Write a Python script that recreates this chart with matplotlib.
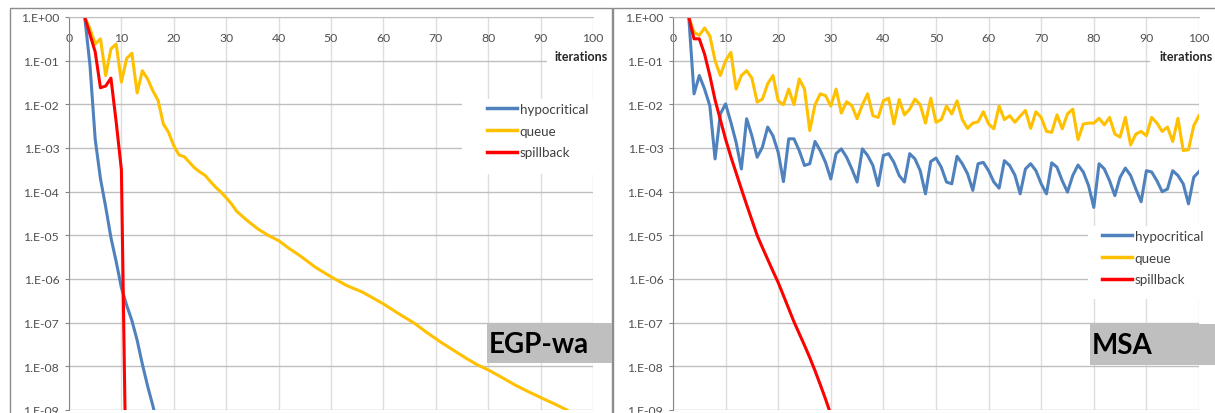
import numpy as np
import matplotlib.pyplot as plt
from matplotlib.patches import Rectangle
from matplotlib.lines import Line2D
from matplotlib.ticker import FixedLocator, FuncFormatter, NullLocator

plt.rcParams['font.family'] = ['Lato', 'DejaVu Sans']

# ---- data (log10 of the residual) ----
# EGP-wa panel
egp_hypo_it = list(range(3, 18))
egp_hypo_log = [0, -1.1, -2.8, -3.7, -4.35, -5.05, -5.6, -6.2, -6.6, -6.95,
                -7.4, -7.95, -8.45, -8.9, -9.4]

egp_queue_it = list(range(3, 33)) + [34, 36, 38, 40, 42, 44, 47, 50, 53, 56, 60,
                                     63, 66, 68, 71, 74, 76, 78, 80, 83, 85, 88,
                                     91, 93, 95, 96]
egp_queue_log = [0, -0.27, -0.62, -0.5, -1.34, -0.73, -0.62, -1.49, -0.95, -0.83,
                 -1.74, -1.23, -1.42, -1.69, -1.91, -2.45, -2.64, -2.95, -3.16, -3.2,
                 -3.33, -3.46, -3.55, -3.63, -3.77, -3.9, -4.01, -4.14, -4.28, -4.45,
                 -4.66, -4.85, -5.0, -5.12, -5.3, -5.46, -5.73, -5.95, -6.15, -6.3, -6.57,
                 -6.8, -7.02, -7.2, -7.45, -7.68, -7.83, -7.97, -8.08, -8.28, -8.42, -8.6,
                 -8.77, -8.88, -9.0, -9.08]

egp_spill_it = list(range(3, 12))
egp_spill_log = [0, -0.4, -0.8, -1.62, -1.58, -1.4, -2.4, -3.5, -11.5]

# MSA panel
msa_it = list(range(3, 101))
msa_hypo_log = [0, -1.76, -1.34, -1.65, -2.03, -3.25, -2.22, -1.99, -2.41, -2.87,
                -3.48, -2.33, -2.72, -3.21, -2.98, -2.52, -2.72, -3.1, -3.77, -2.79,
                -2.79, -3.06, -3.4, -3.36, -2.85, -3.06, -3.33, -3.71, -3.13, -3.02,
                -3.21, -3.48, -3.78, -3.02, -3.17, -3.4, -3.86, -3.17, -3.13, -3.33,
                -3.63, -3.78, -3.13, -3.25, -3.52, -4.05, -3.31, -3.23, -3.44, -3.78,
                -3.82, -3.19, -3.36, -3.59, -3.97, -3.36, -3.33, -3.52, -3.78, -3.92,
                -3.29, -3.4, -3.62, -4.05, -3.48, -3.36, -3.52, -3.82, -4.05, -3.34,
                -3.44, -3.75, -4.01, -3.63, -3.39, -3.55, -3.86, -4.36, -3.36, -3.48,
                -3.75, -4.09, -3.67, -3.46, -3.63, -3.94, -4.23, -3.52, -3.55, -3.75,
                -4.0, -3.94, -3.52, -3.63, -3.82, -4.28, -3.67, -3.54]
msa_queue_log = [0, -0.35, -0.42, -0.25, -0.43, -1.0, -1.34, -1.0, -0.81, -1.65,
                 -1.34, -1.23, -1.4, -1.95, -1.88, -1.53, -1.34, -1.92, -2.01, -1.65,
                 -2.01, -1.42, -1.65, -2.6, -2.01, -1.76, -1.8, -2.04, -1.65, -2.2,
                 -1.94, -2.03, -2.33, -2.01, -1.76, -2.26, -2.3, -1.92, -1.86, -2.45,
                 -1.89, -2.24, -2.11, -1.88, -2.01, -2.43, -1.86, -2.41, -2.35, -2.04,
                 -2.22, -1.92, -2.35, -2.55, -2.43, -2.4, -2.17, -2.45, -2.56, -2.04,
                 -2.35, -2.26, -2.41, -2.27, -2.14, -2.55, -2.17, -2.3, -2.62, -2.64,
                 -2.24, -2.56, -2.22, -2.11, -2.81, -2.45, -2.43, -2.43, -2.32, -2.47,
                 -2.3, -2.68, -2.75, -2.3, -2.93, -2.68, -2.62, -2.72, -2.3, -2.43,
                 -2.62, -2.52, -2.85, -2.32, -3.06, -3.04, -2.49, -2.26]
msa_spill_it = list(range(3, 32))
msa_spill_log = [0, -0.5, -0.5, -0.85, -1.34, -1.9, -2.35, -2.8, -3.2, -3.57,
                 -3.94, -4.3, -4.65, -5.0, -5.28, -5.55, -5.82, -6.08, -6.38, -6.68,
                 -6.98, -7.25, -7.52, -7.8, -8.1, -8.42, -8.75, -9.1, -9.45]

labels = ["hypocritical", "queue", "spillback"]
colors = ["#4F81BD", "#FFC000", "#FF0000"]
x_ticks = list(range(0, 101, 10))
y_ticks = [10.0 ** -k for k in range(0, 10)]

W, H = 1215, 414
fig = plt.figure(figsize=(W / 100, H / 100), dpi=100)


def fx(px):
    return px / W


def fy(py):
    return 1 - py / H


def style_axes(ax):
    ax.set_yscale('log')
    ax.set_xlim(0, 100)
    ax.set_ylim(1e-9, 1)
    ax.yaxis.set_major_locator(FixedLocator(y_ticks))
    ax.yaxis.set_minor_locator(NullLocator())
    ax.yaxis.set_major_formatter(FuncFormatter(
        lambda v, p: "1.E{:+03d}".format(int(round(np.log10(v))))))
    ax.set_xticks(x_ticks)
    ax.xaxis.set_ticks_position('top')
    ax.tick_params(axis='x', top=True, bottom=False, labeltop=True, labelbottom=False,
                   length=0, pad=-19, labelsize=8.8, labelcolor='#505050')
    ax.tick_params(axis='y', direction='out', length=3, pad=4, labelsize=8.8,
                   color='#868686', labelcolor='#505050')
    ax.grid(axis='y', color='#bfbfbf', lw=1)
    ax.grid(axis='x', color='#dedede', lw=1)
    ax.set_axisbelow(True)
    for s in ['right', 'bottom']:
        ax.spines[s].set_visible(False)
    ax.spines['left'].set_color('#868686')
    ax.spines['top'].set_color('#bfbfbf')


ax1 = fig.add_axes([fx(69), fy(411), fx(593 - 69), (411 - 18) / H])
ax2 = fig.add_axes([fx(673), fy(411), fx(1199 - 673), (411 - 18) / H])
style_axes(ax1)
style_axes(ax2)

lw = 2.2
ax1.plot(egp_hypo_it, 10.0 ** np.array(egp_hypo_log), color=colors[0], lw=lw)
ax1.plot(egp_queue_it, 10.0 ** np.array(egp_queue_log), color=colors[1], lw=lw)
ax1.plot(egp_spill_it, 10.0 ** np.array(egp_spill_log), color=colors[2], lw=lw)

ax2.plot(msa_it, 10.0 ** np.array(msa_hypo_log), color=colors[0], lw=lw)
ax2.plot(msa_it, 10.0 ** np.array(msa_queue_log), color=colors[1], lw=lw)
ax2.plot(msa_spill_it, 10.0 ** np.array(msa_spill_log), color=colors[2], lw=lw)

# panel frames
fig.add_artist(Rectangle((fx(10), -0.1), fx(612 - 10), fy(9) + 0.1, fill=False,
                         edgecolor='#8c8c8c', lw=1, zorder=1))
fig.add_artist(Rectangle((fx(613), -0.1), fx(1300 - 613), fy(9) + 0.1, fill=False,
                         edgecolor='#8c8c8c', lw=1, zorder=1))

# "iterations" axis titles
for x0, x1 in [(547, 610), (1150, 1215)]:
    fig.add_artist(Rectangle((fx(x0), fy(67)), fx(x1 - x0), 20 / H, facecolor='white',
                             edgecolor='none', zorder=2))
    fig.text(fx(x1 - 2), fy(57), "iterations", ha='right', va='center',
             fontsize=9, fontweight='bold', color='#262626', zorder=3)

# legends
handles = [Line2D([], [], color=c, lw=2.5) for c in colors]
for (bx0, by0, bx1, by1), (hx, top) in [((462, 100, 600, 175), (487, 104)),
                                        ((1088, 227, 1212, 300), (1102, 231))]:
    fig.add_artist(Rectangle((fx(bx0), fy(by1)), fx(bx1 - bx0), (by1 - by0) / H,
                             facecolor='white', edgecolor='none', zorder=2))
    fig.legend(handles, labels, loc='upper left', bbox_to_anchor=(fx(hx), fy(top)),
               frameon=False, borderpad=0, borderaxespad=0, fontsize=9.6,
               handlelength=2.25, handletextpad=0.2, labelspacing=0.72,
               labelcolor='#404040')

# method labels
for (x0, y0, x1, y1), name in [((487, 324, 612, 364), "EGP-wa"),
                               ((1090, 325, 1215, 366), "MSA")]:
    fig.add_artist(Rectangle((fx(x0), fy(y1)), fx(x1 - x0), (y1 - y0) / H,
                             facecolor='#bfbfbf', edgecolor='none', zorder=2))
    fig.text(fx(x0 + 2), fy((y0 + y1) / 2 + 1), name, ha='left', va='center',
             fontsize=20, fontweight='bold', color='black', zorder=3)

fig.savefig("out.png", dpi=100)
